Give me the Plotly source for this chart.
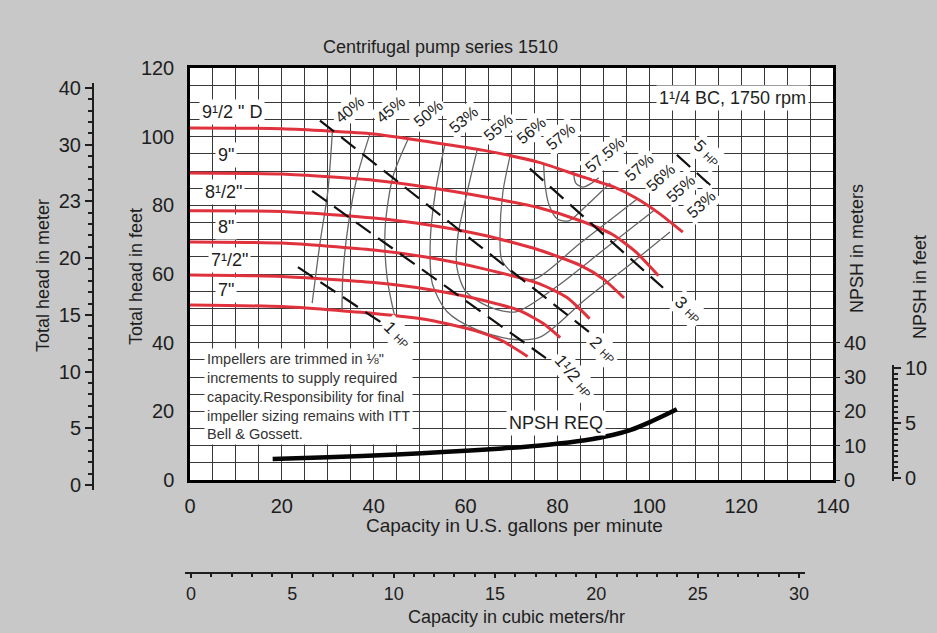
import plotly.graph_objects as go

# ---------------- data ----------------
gpm_ticks = [0, 20, 40, 60, 80, 100, 120, 140]
ft_ticks = [0, 20, 40, 60, 80, 100, 120]
m_head_tickvals = [0, 5, 10, 15, 20, 25, 30, 35]
m_head_ticktext = ["0", "5", "10", "15", "20", "23", "30", "40"]
npsh_m_ticks = [0, 10, 20, 30, 40]
npsh_ft_ticks = [0, 5, 10]
m3_ticks = [0, 5, 10, 15, 20, 25, 30]

imp_names = ['9¹/2 " D', '9"', '8¹/2"', '8"', '7¹/2"', '7"']
q_950 = [0, 20, 40, 52, 64, 76, 85, 92, 97, 102, 107.3]
h_950 = [102.5, 102.3, 100.8, 98.5, 96, 92.5, 88.5, 85.5, 82.2, 77.8, 72.2]
q_900 = [0, 20, 40, 52, 64, 76, 85, 92, 97, 102]
h_900 = [89.4, 89.1, 87.3, 85.2, 82.5, 79.3, 75.5, 71.5, 66.5, 59.5]
q_850 = [0, 20, 40, 52, 64, 76, 85, 90, 94.5]
h_850 = [78.4, 78.2, 76.3, 74.3, 71.3, 67, 62.5, 58.5, 53]
q_800 = [0, 20, 40, 52, 64, 76, 82, 87]
h_800 = [69.3, 69.0, 67.0, 64.8, 61.5, 57.2, 53.2, 47]
q_750 = [0, 20, 40, 52, 64, 72, 77, 80.6]
h_750 = [59.7, 59.3, 57.5, 55.5, 52.3, 49.2, 45.5, 41.5]
q_700 = [0, 20, 40, 52, 62, 68, 73.5]
h_700 = [51, 50.5, 48.5, 46.6, 43.5, 40.5, 36]

eff_names = ["40%", "45%", "50%", "53%", "55%", "56%", "57%", "57.5%"]
eff_right_names = ["57%", "56%", "55%", "53%"]
q_e40 = [31, 30, 28.3, 26.6]
h_e40 = [101.6, 84, 69, 51.5]
q_e45 = [39.2, 36.4, 34.4, 33.3, 33.1]
h_e45 = [100.9, 88.4, 73.7, 60, 49.5]
q_e50 = [47.5, 44.2, 42.5, 42.9, 44.6]
h_e50 = [99.3, 88.4, 73.7, 59.1, 47.5]
q_e53 = [55.5, 53.4, 52.3, 52.8, 56, 62, 70, 76.2, 86, 96, 104.5]
h_e53 = [97.7, 83.6, 69, 57, 49, 44, 41, 41.6, 52.5, 63, 72.2]
q_e55 = [62.5, 60.3, 58.3, 58.1, 60, 65, 71, 80, 90, 101]
h_e55 = [96, 83.6, 70.8, 62, 55, 50.5, 49, 56.5, 67, 78.5]
q_e56 = [69.7, 68.1, 67.5, 67.9, 71, 75, 85, 97.5]
h_e56 = [94.5, 83.6, 70.8, 64, 59.5, 58.5, 69, 82]
q_e57 = [77, 77.3, 78.2, 80, 82.5, 86, 91.5]
h_e57 = [92, 86, 80, 76, 75.5, 79.5, 86.5]
q_e575 = [83.5, 84, 85.5, 87.5, 89]
h_e575 = [89.6, 86.5, 85.3, 86.5, 88]

hp_names = ["1 ", "1¹/2 ", "2 ", "3 ", "5 "]
q_hp1 = [23.5, 41.5]
h_hp1 = [62, 46]
q_hp15 = [26.6, 77.5]
h_hp15 = [84.2, 35.5]
q_hp2 = [28.3, 87]
h_hp2 = [104.7, 43]
q_hp3 = [74, 103]
h_hp3 = [90.7, 56]
q_hp5 = [106, 114]
h_hp5 = [94.7, 85]

q_npsh = [18, 30, 45, 56, 68, 78, 86, 92, 96, 100, 104, 106]
h_npsh = [6.1, 6.6, 7.4, 8.2, 9.2, 10.3, 11.6, 13.1, 14.6, 16.8, 19.3, 20.6]

# ---------------- geometry ----------------
W, H = 937, 633
X0, X1, YT, YB = 190, 833, 68, 480


def fx(px):
    return px / W


def fy(py):
    return 1 - py / H


FONT = "Liberation Sans, Arial, Helvetica, sans-serif"
INK = "#1e1e1e"
GRID = "#383838"

fig = go.Figure()

hid = dict(mode="markers", marker=dict(opacity=0), hoverinfo="skip", showlegend=False)
fig.add_trace(go.Scatter(x=[0], y=[0], xaxis="x", yaxis="y3", **hid))
fig.add_trace(go.Scatter(x=[0], y=[0], xaxis="x2", yaxis="y2", **hid))
fig.add_trace(go.Scatter(x=[0], y=[0], xaxis="x3", yaxis="y4", **hid))
fig.add_trace(go.Scatter(x=[0], y=[0], xaxis="x4", yaxis="y5", **hid))

for q, h in [(q_e40, h_e40), (q_e45, h_e45), (q_e50, h_e50), (q_e53, h_e53),
             (q_e55, h_e55), (q_e56, h_e56), (q_e57, h_e57), (q_e575, h_e575)]:
    fig.add_trace(go.Scatter(x=q, y=h, mode="lines", hoverinfo="skip", showlegend=False,
                             line=dict(color="#666666", width=1.3, shape="spline", smoothing=0.8)))

for q, h in [(q_950, h_950), (q_900, h_900), (q_850, h_850), (q_800, h_800),
             (q_750, h_750), (q_700, h_700)]:
    fig.add_trace(go.Scatter(x=q, y=h, mode="lines", hoverinfo="skip", showlegend=False,
                             line=dict(color="#e0323c", width=3, shape="spline", smoothing=0.6)))

for q, h in [(q_hp1, h_hp1), (q_hp15, h_hp15), (q_hp2, h_hp2), (q_hp3, h_hp3), (q_hp5, h_hp5)]:
    fig.add_trace(go.Scatter(x=q, y=h, mode="lines", hoverinfo="skip", showlegend=False,
                             line=dict(color="#111111", width=2.2, dash="18px,9px")))

fig.add_trace(go.Scatter(x=q_npsh, y=h_npsh, mode="lines", hoverinfo="skip", showlegend=False,
                         line=dict(color="#050505", width=4.5, shape="spline", smoothing=0.7)))

tickfont = dict(family=FONT, size=20, color=INK)

xdom = [fx(X0), fx(X1)]
ydom = [fy(YB), fy(YT)]

mh_ppu = (485 - 88) / 35
mh_dom = [fy(485 + 0.4 * mh_ppu), fy(88 - 0.4 * mh_ppu)]
nf_ppu = 11.0
nf_dom = [fy(478 + 0.3 * nf_ppu), fy(368 - 0.3 * nf_ppu)]
m3_ppu = (799 - 191) / 30
m3_dom = [fx(191 - 0.3 * m3_ppu), fx(799 + 0.3 * m3_ppu)]

fig.update_layout(
    width=W, height=H, autosize=False,
    margin=dict(l=0, r=0, t=0, b=0, pad=0, autoexpand=False),
    paper_bgcolor="#c8c8c8",
    plot_bgcolor="rgba(0,0,0,0)",
    showlegend=False,
    xaxis=dict(domain=xdom, range=[0, 140], anchor="y", tickvals=gpm_ticks,
               showgrid=True, gridcolor=GRID, gridwidth=1.1,
               minor=dict(dtick=5, showgrid=True, gridcolor=GRID, gridwidth=1.1),
               showline=True, linecolor="#000", linewidth=2.5, mirror=True,
               ticks="", tickfont=tickfont, ticklabelstandoff=6, zeroline=False, automargin=False),
    yaxis=dict(domain=ydom, range=[0, 120], anchor="x", tickvals=ft_ticks,
               showgrid=True, gridcolor=GRID, gridwidth=1.1,
               minor=dict(dtick=5, showgrid=True, gridcolor=GRID, gridwidth=1.1),
               showline=True, linecolor="#000", linewidth=2.5, mirror=True,
               ticks="", tickfont=tickfont, ticklabelstandoff=9, zeroline=False, automargin=False),
    yaxis3=dict(overlaying="y", side="right", anchor="x", range=[0, 120],
                tickvals=npsh_m_ticks, ticks="outside", ticklen=6, tickcolor=INK,
                showgrid=False, zeroline=False, showline=False, tickfont=tickfont, automargin=False),
    xaxis2=dict(domain=[0, 0.01], anchor="y2", visible=False, range=[0, 1]),
    yaxis2=dict(domain=mh_dom, range=[-0.4, 35.4], anchor="free", position=fx(93), side="left",
                tickvals=m_head_tickvals, ticktext=m_head_ticktext, ticks="outside", ticklen=7,
                tickcolor=INK, tickwidth=1.5,
                minor=dict(dtick=1, ticks="outside", ticklen=4, tickcolor=INK, showgrid=False),
                showline=True, linecolor=INK, linewidth=2, showgrid=False, zeroline=False,
                tickfont=tickfont, automargin=False),
    xaxis3=dict(domain=[0.99, 1], anchor="y4", visible=False, range=[0, 1]),
    yaxis4=dict(domain=nf_dom, range=[-0.3, 10.3], anchor="free", position=fx(893), side="right",
                tickvals=npsh_ft_ticks, ticks="outside", ticklen=7, tickcolor=INK, tickwidth=1.5,
                minor=dict(dtick=0.5, ticks="outside", ticklen=4, tickcolor=INK, showgrid=False),
                showline=True, linecolor=INK, linewidth=2, showgrid=False, zeroline=False,
                tickfont=tickfont, automargin=False),
    xaxis4=dict(domain=m3_dom, range=[-0.3, 30.3], anchor="free", position=fy(573), side="bottom",
                tickvals=m3_ticks, ticks="outside", ticklen=4, tickcolor=INK, tickwidth=1.5,
                minor=dict(dtick=1, ticks="outside", ticklen=3, tickcolor=INK, showgrid=False),
                showline=True, linecolor=INK, linewidth=2, showgrid=False, zeroline=False,
                tickfont=dict(family=FONT, size=18, color=INK), automargin=False),
    yaxis5=dict(domain=[0, 0.01], anchor="x4", visible=False, range=[0, 1]),
)

fig.add_shape(type="rect", xref="paper", yref="paper", x0=xdom[0], x1=xdom[1],
              y0=ydom[0], y1=ydom[1], fillcolor="white", line=dict(width=0), layer="below")

ann = []


def T(text, xp, yp, size=18, angle=0, bg=None, xanchor="center", yanchor="middle", align="center", color=INK):
    a = dict(text=text, x=fx(xp), y=fy(yp), xref="paper", yref="paper", showarrow=False,
             font=dict(family=FONT, size=size, color=color), textangle=angle,
             xanchor=xanchor, yanchor=yanchor, align=align)
    if bg:
        a.update(bgcolor=bg, borderpad=2)
    ann.append(a)


T("Centrifugal pump series 1510", 440, 47, size=18)
T("Total head in meter", 43, 276, size=18, angle=-90)
T("Total head in feet", 136, 277, size=18, angle=-90)
T("NPSH in meters", 857, 249, size=18, angle=-90)
T("NPSH in feet", 920, 287, size=18, angle=-90)
T("Capacity in U.S. gallons per minute", 514, 525, size=19)
T("Capacity in cubic meters/hr", 516, 617, size=18)

for name, (xp, yp) in zip(imp_names, [(232, 112), (226, 155), (223, 192), (226, 227), (229, 260), (226, 290)]):
    T(name, xp, yp, size=18, bg="white")

T("1¹/4 BC, 1750 rpm", 732, 98, size=18, bg="white")

for name, (xp, yp) in zip(eff_names, [(350, 110), (391, 110), (428, 113), (464, 120), (498, 127),
                                       (531, 130), (561, 137), (604, 155)]):
    T(name, xp, yp, size=16, angle=-40, bg="white")
for name, (xp, yp) in zip(eff_right_names, [(639, 167), (661, 178), (681, 189), (701, 204)]):
    T(name, xp, yp, size=16, angle=-42, bg="white")

hp_small = "<span style='font-size:11px'>HP</span>"
for name, (xp, yp), ang in zip(hp_names,
                               [(397, 334), (573, 376), (603, 349), (688, 309), (706, 153)],
                               [45, 50, 45, 45, 45]):
    T(name + hp_small, xp, yp, size=17, angle=ang, bg="white")

T("NPSH REQ", 556, 423, size=18, bg="white")

T("Impellers are trimmed in ⅛\"<br>increments to supply required<br>capacity.Responsibility for final"
  "<br>impeller sizing remains with ITT<br>Bell &amp; Gossett.",
  204, 396, size=14.5, bg="white", xanchor="left", align="left", color="#333")

fig.update_layout(annotations=ann)

fig.write_html("out.html",
               post_script="document.body.style.margin='0';document.body.style.overflow='hidden';")
